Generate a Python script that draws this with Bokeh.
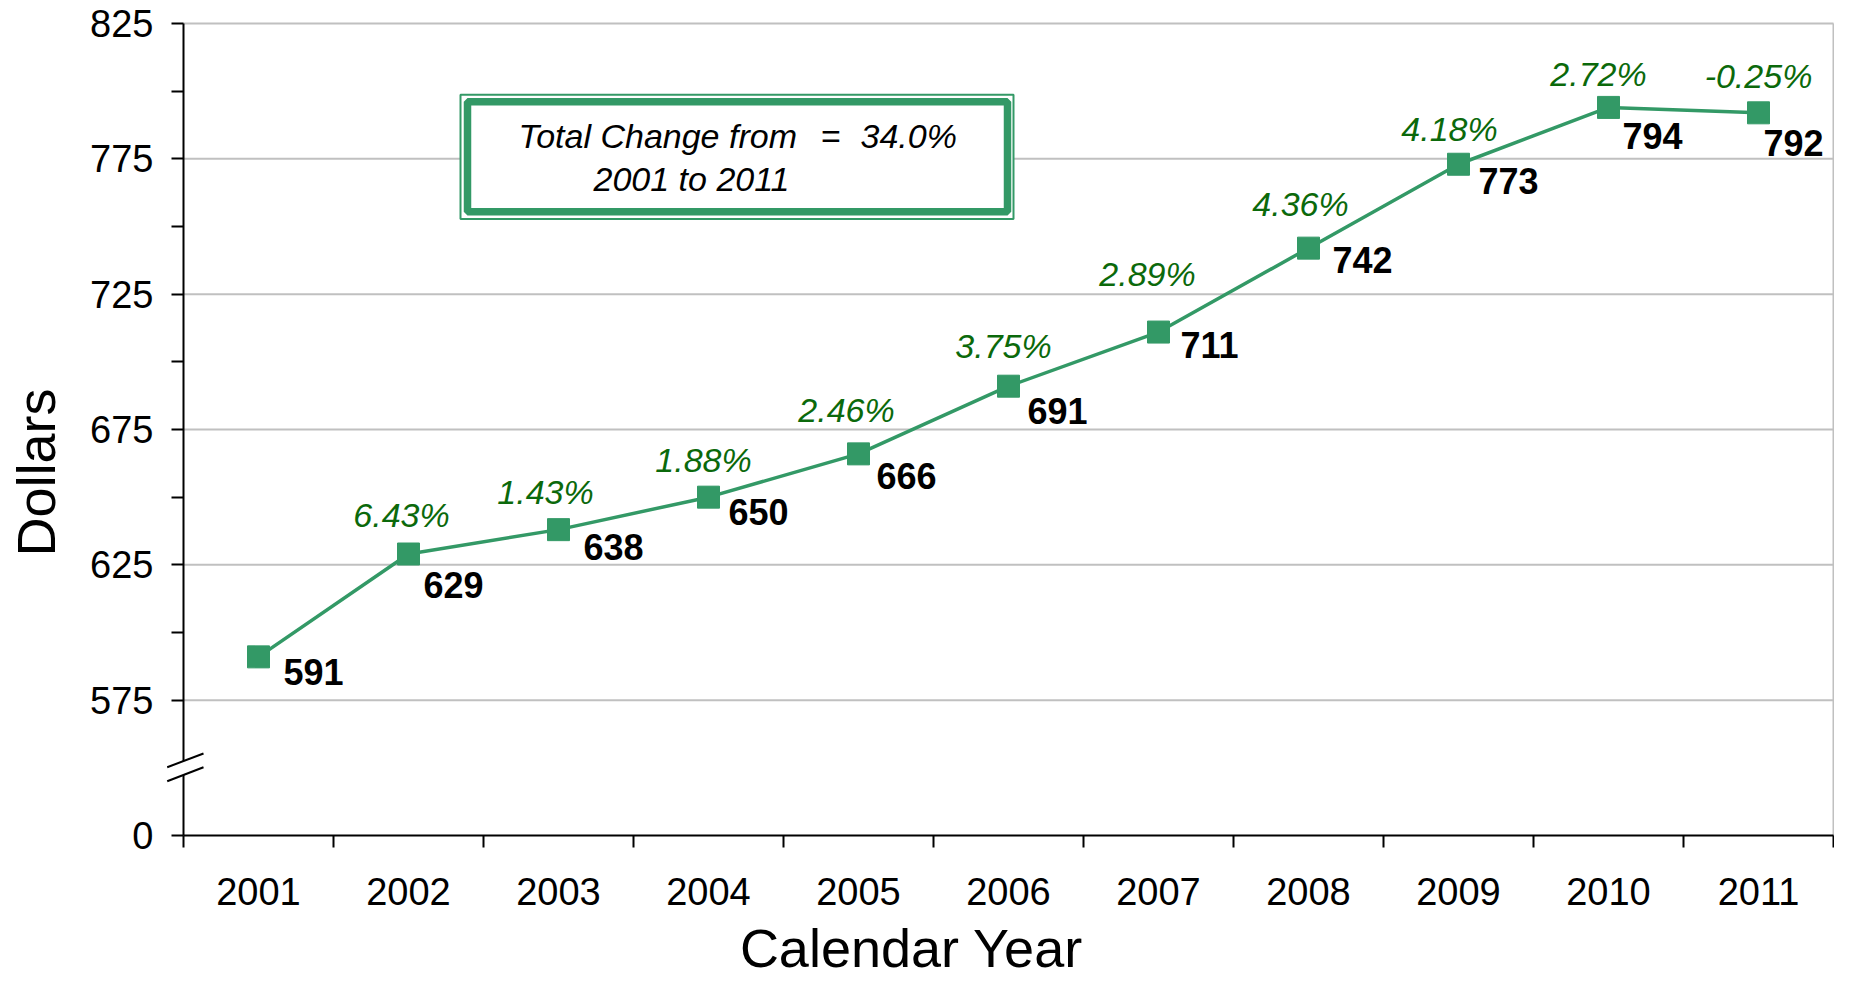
import math
from bokeh.plotting import figure
from bokeh.models import (ColumnDataSource, FixedTicker, Label, BoxAnnotation,
                          PolyAnnotation, Arrow, Range1d)
from bokeh.core.properties import value
from bokeh.embed import file_html
from bokeh.resources import INLINE

# ---------------- data ----------------
years = [2001, 2002, 2003, 2004, 2005, 2006, 2007, 2008, 2009, 2010, 2011]
dollars = [591, 629, 638, 650, 666, 691, 711, 742, 773, 794, 792]
pct_labels = ["6.43%", "1.43%", "1.88%", "2.46%", "3.75%", "2.89%",
              "4.36%", "4.18%", "2.72%", "-0.25%"]
y_ticks = [525, 575, 625, 675, 725, 775, 825]          # 525 is drawn as the broken "0"
y_tick_labels = ["0", "575", "625", "675", "725", "775", "825"]
x_title = "Calendar Year"
y_title = "Dollars"
box_words = ["Total Change from", "=", "34.0%"]
box_line2 = "2001 to 2011"

# label placement (screen pixel offsets, style only)
val_dx = [25, 15, 25, 20, 18, 19, 22, 24, 20, 14, 5]
val_dy = [15, 31, 17, 15, 22, 25, 13, 12, 17, 29, 30]
pct_dx = [-7, -13, -5, -12, -5, -11, -8, -9, -10, 0]
pct_dy = [-39, -38, -37, -44, -40, -58, -44, -35, -33, -37]

GREEN = "#339966"
PCT_GREEN = "#0b690b"
GRID = "#c0c0c0"
FONT = "Liberation Sans"

# ---------------- layout geometry (canvas pixels) ----------------
W, H = 1834, 979
AX_L, AX_R = 183, 1833      # first / last category boundary
PX_TOP, PX_BOT = 23, 835    # top tick / broken-zero line

x_lo, x_hi = years[0] - 0.5, years[-1] + 0.5
ux = (AX_R - AX_L) / (x_hi - x_lo)
uy = (PX_BOT - PX_TOP) / (y_ticks[-1] - y_ticks[0])
x_range = Range1d(x_lo - AX_L / ux, x_hi + (W - AX_R) / ux)
y_range = Range1d(y_ticks[0] - (H - PX_BOT) / uy, y_ticks[-1] + PX_TOP / uy)

p = figure(width=W, height=H, output_backend="svg", toolbar_location=None,
           x_range=x_range, y_range=y_range, min_border=0)
p.background_fill_color = "white"
p.border_fill_color = "white"
p.outline_line_color = None
p.xgrid.visible = False
p.ygrid.visible = False

# ---- x axis: labels at centers, ticks at category boundaries ----
xa = p.xaxis[0]
xa.fixed_location = y_ticks[0]
xa.bounds = (x_lo, x_hi)
xa.ticker = FixedTicker(ticks=years,
                        minor_ticks=[y - 0.5 for y in years] + [x_hi])
xa.major_label_overrides = {y: str(y) for y in years}
xa.major_tick_in = 0
xa.major_tick_out = 0
xa.minor_tick_in = 0
xa.minor_tick_out = 12
xa.minor_tick_line_color = "black"
xa.minor_tick_line_width = 2
xa.axis_line_color = "black"
xa.axis_line_width = 2
xa.major_label_text_font = FONT
xa.major_label_text_font_size = "38px"
xa.major_label_text_color = "black"
xa.major_label_standoff = 30

# ---- y axis ----
ya = p.yaxis[0]
ya.fixed_location = x_lo
ya.bounds = (y_ticks[0], y_ticks[-1])
ya.ticker = FixedTicker(ticks=y_ticks,
                        minor_ticks=[(a + b) / 2 for a, b in zip(y_ticks[1:-1], y_ticks[2:])])
ya.major_label_overrides = dict(zip(y_ticks, y_tick_labels))
ya.major_tick_in = 0
ya.major_tick_out = 12
ya.minor_tick_in = 0
ya.minor_tick_out = 12
ya.major_tick_line_width = 2
ya.minor_tick_line_width = 2
ya.major_tick_line_color = "black"
ya.minor_tick_line_color = "black"
ya.axis_line_color = "black"
ya.axis_line_width = 2
ya.major_label_text_font = FONT
ya.major_label_text_font_size = "38px"
ya.major_label_text_color = "black"
ya.major_label_standoff = 18

# ---- gridlines and right border ----
gl = y_ticks[1:]
p.segment(x0=[x_lo] * len(gl), x1=[x_hi] * len(gl), y0=gl, y1=gl,
          line_color=GRID, line_width=2)
p.segment(x0=[x_hi], x1=[x_hi], y0=[y_ticks[0]], y1=[y_ticks[-1]],
          line_color=GRID, line_width=2)

# ---- series ----
src = ColumnDataSource(dict(x=years, y=dollars, lab=[str(v) for v in dollars],
                            dx=val_dx, dy=val_dy))
p.line("x", "y", source=src, line_color=GREEN, line_width=3.5)
p.scatter("x", "y", source=src, marker="square", size=22,
          fill_color=GREEN, line_color=GREEN)
p.text("x", "y", text="lab", source=src, x_offset="dx", y_offset="dy",
       text_font=value(FONT), text_font_style="bold", text_font_size="36px",
       text_color="black", text_align="left", text_baseline="middle")

psrc = ColumnDataSource(dict(x=years[1:], y=dollars[1:], lab=pct_labels,
                             dx=pct_dx, dy=pct_dy))
p.text("x", "y", text="lab", source=psrc, x_offset="dx", y_offset="dy",
       text_font=value(FONT), text_font_style="italic", text_font_size="34px",
       text_color=PCT_GREEN, text_align="center", text_baseline="middle")

# helper: screen units are measured from the frame's bottom-left (frame = canvas)
def sy(canvas_y):
    return H - canvas_y

# ---- total-change box (double border) ----
p.add_layout(BoxAnnotation(left=460, right=1013, top=sy(94.3), bottom=sy(218.5),
                           left_units="screen", right_units="screen",
                           top_units="screen", bottom_units="screen",
                           fill_color="white", fill_alpha=1.0,
                           line_color=GREEN, line_alpha=1.0, line_width=2))
p.add_layout(BoxAnnotation(left=467, right=1007, top=sy(101.3), bottom=sy(211.3),
                           left_units="screen", right_units="screen",
                           top_units="screen", bottom_units="screen",
                           fill_alpha=0.0, line_color=GREEN, line_alpha=1.0,
                           line_width=7.5))
for word, xpos, align in zip(box_words, [518, 830, 860], ["left", "center", "left"]):
    p.add_layout(Label(x=xpos, y=sy(135), x_units="screen", y_units="screen",
                       text=word, text_font=FONT, text_font_style="italic",
                       text_font_size="34px", text_color="black",
                       text_align=align, text_baseline="middle"))
p.add_layout(Label(x=593, y=sy(178.5), x_units="screen", y_units="screen",
                   text=box_line2, text_font=FONT, text_font_style="italic",
                   text_font_size="34px", text_color="black",
                   text_align="left", text_baseline="middle"))

# ---- axis break symbol ----
p.add_layout(PolyAnnotation(xs=[166.7, 203, 203, 166.7],
                            ys=[sy(766.7), sy(753), sy(766.7), sy(780.7)],
                            xs_units="screen", ys_units="screen",
                            fill_color="white", fill_alpha=1.0, line_alpha=0.0))
for (xa0, ya0, xa1, ya1) in [(166.7, 766.7, 203, 753), (166.7, 780.7, 203, 766.7)]:
    p.add_layout(Arrow(end=None, x_start=xa0, y_start=sy(ya0), x_end=xa1, y_end=sy(ya1),
                       start_units="screen", end_units="screen",
                       line_color="black", line_width=2))

# ---- axis titles ----
p.add_layout(Label(x=911, y=sy(947), x_units="screen", y_units="screen",
                   text=x_title, text_font=FONT, text_font_size="54px",
                   text_color="black", text_align="center", text_baseline="middle"))
p.add_layout(Label(x=35, y=sy(472), x_units="screen", y_units="screen",
                   text=y_title, text_font=FONT, text_font_size="54px",
                   angle=math.pi / 2, text_color="black",
                   text_align="center", text_baseline="middle"))

open("out.html", "w").write(file_html(p, INLINE))
